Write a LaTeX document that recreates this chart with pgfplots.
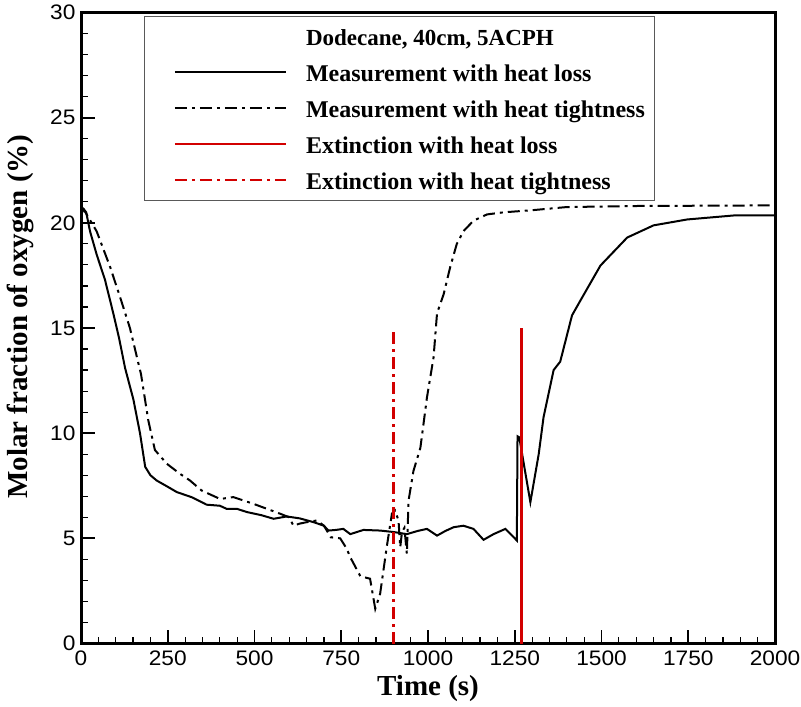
\documentclass[border=0pt]{standalone}
\usepackage{fontspec}
\setmainfont{Liberation Serif}
\newfontfamily\arial[FakeStretch=1.08]{Liberation Sans}
\usepackage{pgfplots}
\pgfplotsset{compat=1.18}
\definecolor{myred}{RGB}{210,0,0}
\pgfplotstableread{
x y
0 20.4
8 20.65
15 20.5
26 19.6
45 18.5
69 17.3
93 15.7
110 14.5
127 13.1
151 11.6
170 10.0
185 8.4
200 8.0
218 7.75
250 7.45
276 7.2
320 6.95
362 6.6
400 6.55
420 6.4
450 6.4
478 6.25
520 6.1
555 5.93
593 6.04
630 5.95
670 5.77
700 5.6
713 5.37
735 5.4
756 5.45
776 5.2
814 5.4
862 5.37
901 5.3
939 5.2
970 5.35
997 5.45
1026 5.13
1050 5.35
1074 5.53
1102 5.6
1131 5.45
1160 4.93
1189 5.2
1223 5.45
1250 5.0
1256 4.9
1258 9.85
1263 9.8
1295 6.72
1319 9.0
1333 10.76
1362 13.0
1381 13.4
1415 15.6
1439 16.3
1497 17.97
1574 19.3
1650 19.88
1747 20.16
1881 20.35
2000 20.35
}\heatloss
\pgfplotstableread{
x y
0 20.5
7 20.65
20 20.3
45 19.6
84 17.9
112 16.5
141 15.0
173 12.8
194 10.6
213 9.2
247 8.55
285 8.07
314 7.75
348 7.27
401 6.87
439 6.96
497 6.64
574 6.17
600 6.0
612 5.6
630 5.7
651 5.77
680 5.85
700 5.6
720 5.05
747 5.0
766 4.5
776 4.1
805 3.2
833 3.08
848 1.65
862 2.36
881 4.58
896 6.17
905 6.32
915 5.85
920 4.58
925 5.3
932 5.5
939 4.27
944 6.8
958 8.2
978 9.3
997 11.7
1016 13.6
1026 15.7
1045 16.6
1064 17.9
1083 19.0
1102 19.6
1131 20.1
1170 20.4
1218 20.5
1300 20.6
1400 20.75
1600 20.8
2000 20.83
}\heattight
\begin{document}
\begin{tikzpicture}
\begin{axis}[name=ax, scale only axis, width=694pt, height=631pt,
  xmin=0, xmax=2000, ymin=0, ymax=30,
  xtick={0,250,...,2000}, ytick={0,5,...,30},
  minor x tick num=4, minor y tick num=4,
  xtick pos=bottom, ytick pos=left, tick align=inside,
  major tick length=14pt, minor tick length=7pt,
  every tick/.style={black, line width=1.8pt},
  minor tick style={line width=1.2pt},
  axis line style={line width=3pt},
  ticklabel style={font=\arial\fontsize{21}{21}\selectfont},
  xticklabel style={yshift=-4pt},
  yticklabel style={xshift=-2pt},
  /pgf/number format/assume math mode=true,
  /pgf/number format/1000 sep={},
  scaled ticks=false,
  xlabel={Time (s)}, ylabel={Molar fraction of oxygen (\%)},
  label style={font=\bfseries\fontsize{29}{29}\selectfont},
  xlabel style={at={([yshift=-45pt]axis description cs:0.5,0)}, anchor=center},
  ylabel style={at={([xshift=-61pt]axis description cs:0,0.518)}, anchor=center},
  legend cell align=left,
  legend image code/.code={\path (0pt,0pt) (130pt,0pt); \draw[#1] (19pt,0pt) -- (130pt,0pt);},
  legend style={at={(0.0908,0.9952)}, anchor=north west, draw=gray!70!black, line width=1pt,
    inner xsep=10pt, inner ysep=8pt, row sep=12pt, column sep=19pt,
    nodes={inner sep=0pt, text height=21pt, text depth=3pt},
    font=\bfseries\fontsize{24}{24}\selectfont, cells={anchor=west}},
]
\addlegendimage{empty legend}
\addlegendentry{\fontsize{23}{23}\selectfont Dodecane, 40cm, 5ACPH}
\addplot[black, line width=2pt] table {\heatloss};
\addlegendentry{Measurement with heat loss}
\addplot[black, line width=2pt, dash pattern=on 12pt off 5pt on 3pt off 5pt] table {\heattight};
\addlegendentry{Measurement with heat tightness}
\addplot[myred, line width=2.5pt] coordinates {(1270,0) (1270,15)};
\addlegendentry{Extinction with heat loss}
\addplot[myred, line width=2.5pt, dash pattern=on 12pt off 5pt on 3pt off 5pt] coordinates {(900,0) (900,15)};
\addlegendentry{Extinction with heat tightness}
\end{axis}
\pgfresetboundingbox
\path ([shift={(-81pt,-63pt)}]ax.south west) rectangle ([shift={(26pt,12.5pt)}]ax.north east);
\end{tikzpicture}
\end{document}
